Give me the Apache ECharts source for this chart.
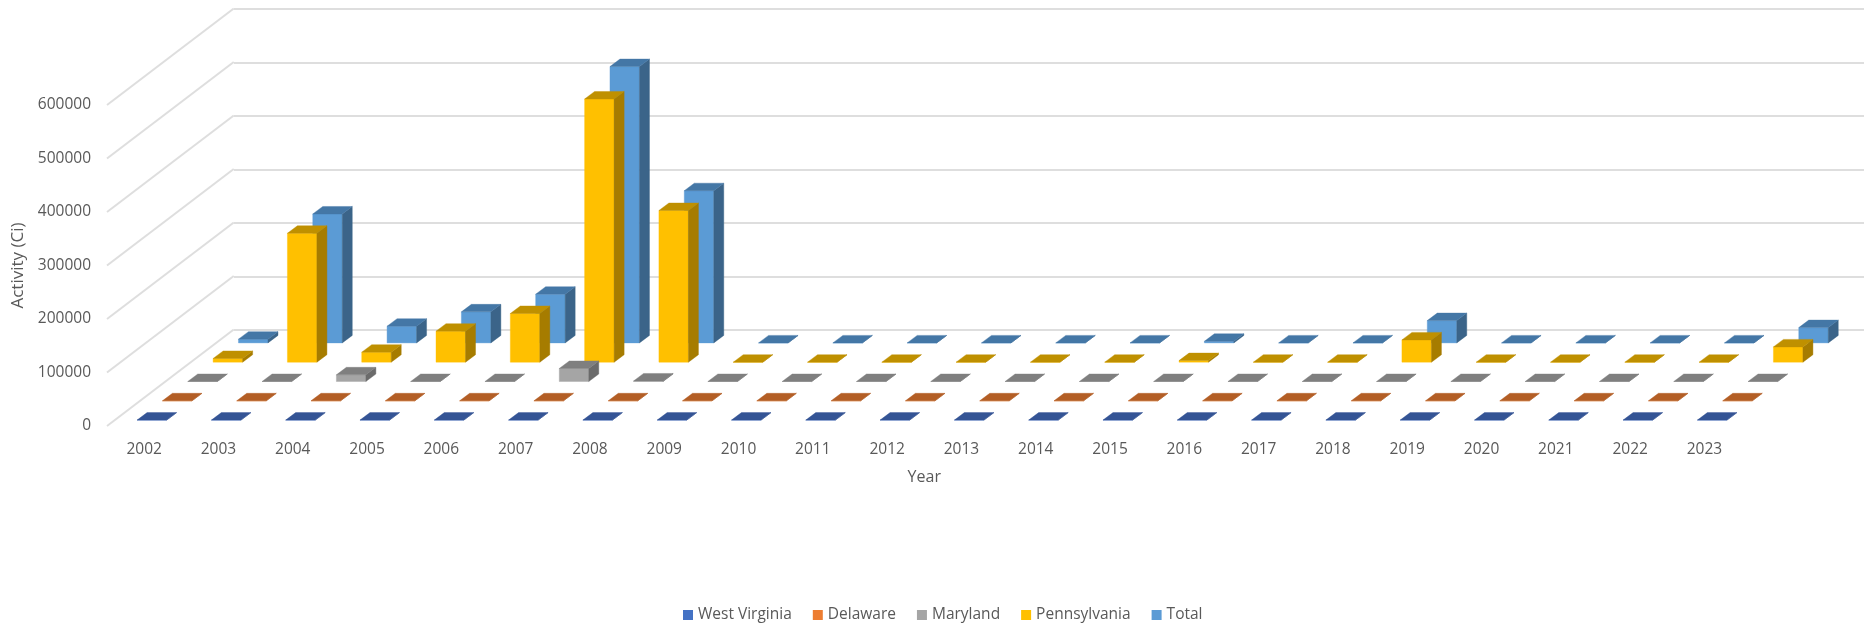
<!DOCTYPE html>
<html><head><meta charset="utf-8">
<style>html,body{margin:0;padding:0;background:#fff}#c{width:1864px;height:624px}</style>
<script src="https://cdn.jsdelivr.net/npm/echarts@6/dist/echarts.min.js"></script>
</head><body><div id="c"></div>
<script>
const years = ['2002','2003','2004','2005','2006','2007','2008','2009','2010','2011','2012','2013','2014','2015','2016','2017','2018','2019','2020','2021','2022','2023'];
const westVirginia = [0,0,0,0,0,0,0,0,0,0,0,0,0,0,0,0,0,0,0,0,0,0];
const delaware = [0,0,0,0,0,0,0,0,0,0,0,0,0,0,0,0,0,0,0,0,0,0];
const maryland = [0,0,12500,0,0,24300,1000,0,0,0,0,0,0,0,0,0,0,0,0,0,0,0];
const pennsylvania = [7000,241000,18700,58000,91000,492000,283500,0,0,0,0,0,0,3000,0,0,41700,0,0,0,0,28600];
const total = [7000,241000,31200,58000,91000,516500,284500,0,0,0,0,0,0,3000,0,0,41700,0,0,0,0,28600];
const yTicks = [0,100000,200000,300000,400000,500000,600000];

const FONT = '"Open Sans", sans-serif';
const TXT = '#595959';
const GRID = '#DEDEDE';
const ROW_DX = 25.35, ROW_DY = 19.3;
const BAR_W = 29.5, DEPTH_X = 10, DEPTH_Y = 7.5;

function barSeries(name, values, row, faces) {
  return {
    name, type: 'custom', coordinateSystem: 'cartesian2d', xAxisIndex: 0, yAxisIndex: 0,
    z: 10 - row, itemStyle: { color: faces.front },
    data: values.map((v, i) => [i, v]),
    renderItem(params, api) {
      const base = api.coord([api.value(0), 0]);
      const top = api.coord([api.value(0), api.value(1)]);
      const x0 = base[0] + (row + 0.5) * ROW_DX - DEPTH_X / 2 - BAR_W / 2;
      const shift = (row + 0.5) * ROW_DY - DEPTH_Y / 2;
      const yb = base[1] - shift, yt = top[1] - shift, x1 = x0 + BAR_W;
      const poly = (pts, fill) => ({ type: 'polygon', shape: { points: pts }, style: { fill, stroke: fill, lineWidth: 0.4 } });
      return { type: 'group', children: [
        poly([[x0, yb], [x1, yb], [x1, yt], [x0, yt]], faces.front),
        poly([[x1, yb], [x1 + DEPTH_X, yb - DEPTH_Y], [x1 + DEPTH_X, yt - DEPTH_Y], [x1, yt]], faces.side),
        poly([[x0, yt], [x1, yt], [x1 + DEPTH_X, yt - DEPTH_Y], [x0 + DEPTH_X, yt - DEPTH_Y]], faces.top)
      ]};
    }
  };
}

const chart = echarts.init(document.getElementById('c'), null, { renderer: 'canvas' });
chart.setOption({
  animation: false,
  backgroundColor: '#fff',
  grid: [
    { left: 107, top: 105, width: 1634.6, height: 321 },
    { left: 234, top: 9, width: 1634.6, height: 321 }
  ],
  xAxis: [
    { type: 'category', gridIndex: 0, data: years,
      axisLine: { show: false }, axisTick: { show: false }, splitLine: { show: false },
      axisLabel: { color: TXT, fontFamily: FONT, fontSize: 15.5, margin: 16, interval: 0 },
      name: 'Year', nameLocation: 'middle', nameGap: 43,
      nameTextStyle: { color: TXT, fontFamily: FONT, fontSize: 16 } },
    { type: 'category', gridIndex: 1, data: years, show: false }
  ],
  yAxis: [
    { type: 'value', gridIndex: 0, min: 0, max: 600000, interval: 100000,
      axisLine: { show: false }, axisTick: { show: false }, splitLine: { show: false },
      axisLabel: { color: TXT, fontFamily: FONT, fontSize: 15.5, margin: 16, padding: [7, 0, 0, 0], formatter: v => String(v) },
      name: 'Activity (Ci)', nameLocation: 'middle', nameGap: 75, nameRotate: 90,
      nameTextStyle: { color: TXT, fontFamily: FONT, fontSize: 17 } },
    { type: 'value', gridIndex: 1, min: 0, max: 600000, interval: 100000,
      axisLine: { show: false }, axisTick: { show: false }, axisLabel: { show: false },
      splitLine: { show: true, lineStyle: { color: GRID, width: 2 } } }
  ],
  legend: {
    left: 683, top: 607, padding: 0, itemWidth: 10, itemHeight: 10, itemGap: 21, icon: 'rect',
    textStyle: { color: TXT, fontFamily: FONT, fontSize: 15.5 },
    data: ['West Virginia', 'Delaware', 'Maryland', 'Pennsylvania', 'Total']
  },
  series: [
    { type: 'custom', name: 'walls', coordinateSystem: 'cartesian2d', xAxisIndex: 0, yAxisIndex: 0, z: 1, silent: true,
      data: yTicks.map(v => [0, v]),
      renderItem(params, api) {
        const p = api.coord([0, api.value(1)]);
        const x = p[0] - api.size([1, 0])[0] / 2;
        return { type: 'line', shape: { x1: x, y1: p[1], x2: x + 5 * ROW_DX, y2: p[1] - 5 * ROW_DY },
          style: { stroke: GRID, lineWidth: 2, fill: null } };
      } },
    barSeries('West Virginia', westVirginia, 0, { front: '#4472C4', top: '#345495', side: '#2F5191' }),
    barSeries('Delaware', delaware, 1, { front: '#ED7D31', top: '#B35E25', side: '#A85822' }),
    barSeries('Maryland', maryland, 2, { front: '#A5A5A5', top: '#7F7F7F', side: '#6B6B6B' }),
    barSeries('Pennsylvania', pennsylvania, 3, { front: '#FFC000', top: '#BF9000', side: '#A67C00' }),
    barSeries('Total', total, 4, { front: '#5B9BD5', top: '#4477A6', side: '#3B6489' })
  ]
});
</script></body></html>
